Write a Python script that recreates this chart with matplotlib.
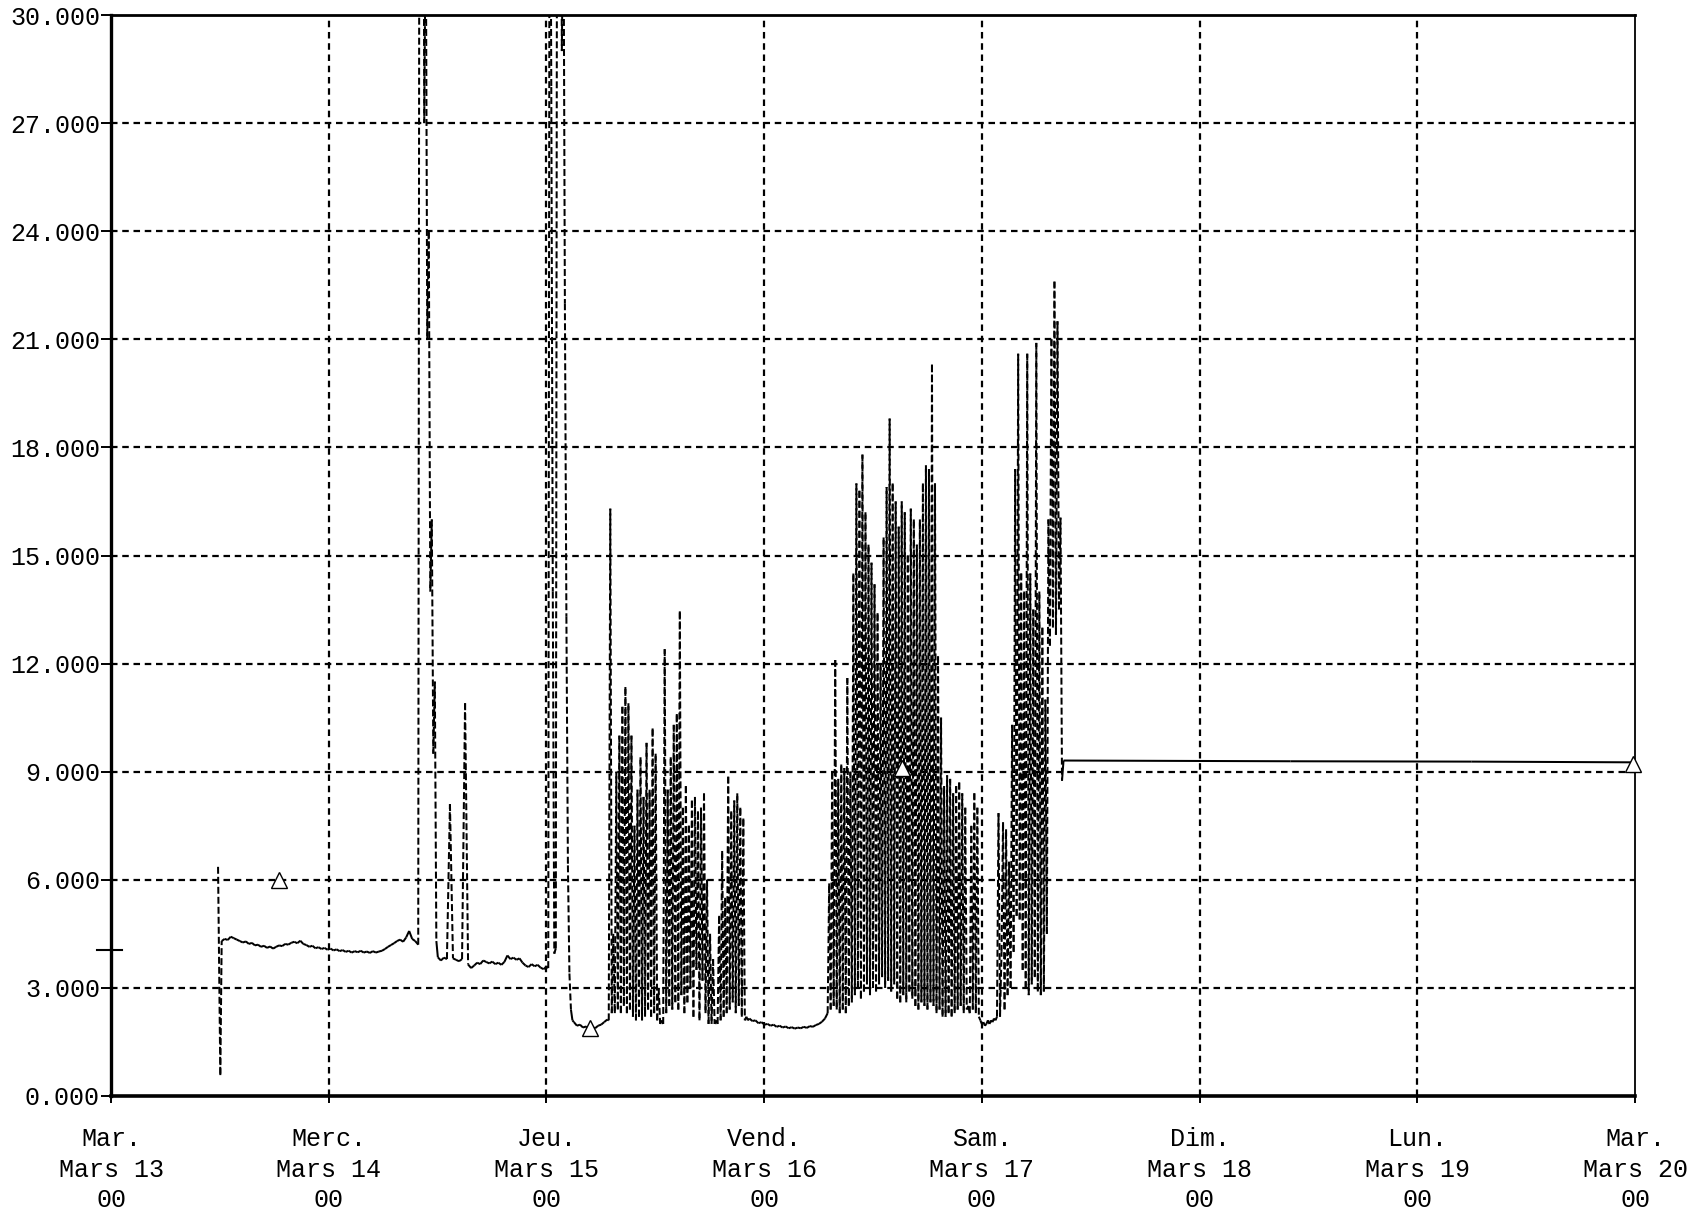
import numpy as np
import matplotlib
matplotlib.use("Agg")
import matplotlib.pyplot as plt
from matplotlib.collections import LineCollection

plt.rcParams['lines.scale_dashes'] = False
plt.rcParams['font.family'] = ['Liberation Mono', 'DejaVu Sans Mono']

# ---------------- axis labelling ----------------
tick_hours = [0, 24, 48, 72, 96, 120, 144, 168]
day_names = ["Mar.", "Merc.", "Jeu.", "Vend.", "Sam.", "Dim.", "Lun.", "Mar."]
date_names = ["Mars 13", "Mars 14", "Mars 15", "Mars 16",
              "Mars 17", "Mars 18", "Mars 19", "Mars 20"]
hour_names = ["00", "00", "00", "00", "00", "00", "00", "00"]
y_ticks = [0, 3, 6, 9, 12, 15, 18, 21, 24, 27, 30]

# ---------------- readings (time in hours from Mar 13 00:00) ----------------
# level held before the recording starts
pre_hours = [-1.55, 1.2]
pre_values = [4.05, 4.05]

# start-up transient
startup_hours = [11.8, 12.05]
startup_values = [6.36, 0.58]

# Mar 13 - 14 steady run, 20 min sampling
run1_start, run1_step = 12.2, 1 / 3
run1 = [4.30, 4.36, 4.33, 4.42, 4.38, 4.34, 4.30, 4.26, 4.29, 4.22,
        4.25, 4.18, 4.20, 4.14, 4.17, 4.11, 4.15, 4.09, 4.14, 4.18,
        4.16, 4.22, 4.20, 4.25, 4.28, 4.24, 4.31, 4.22, 4.19, 4.14,
        4.17, 4.10, 4.13, 4.08, 4.11, 4.06, 4.09, 4.04, 4.07, 4.02,
        4.05, 4.00, 4.03, 3.98, 4.02, 3.99, 4.03, 3.98, 4.01, 3.97,
        4.02, 3.98, 4.01, 4.03, 4.08, 4.14, 4.19, 4.24, 4.30, 4.34,
        4.28, 4.40, 4.58, 4.36, 4.30, 4.20]

# first overload, 10 min sampling
peak1_start, peak1_step = 34.03, 1 / 6
peak1 = [45.0, 33.0, 45.0, 27.0, 33.0, 21.0, 24.0, 14.0, 16.0, 9.5,
         11.5, 4.3]

# Mar 14 - 15 steady run, 20 min sampling
run2_start, run2_step = 36.03, 1 / 3
run2 = [3.85, 3.76, 3.84, 3.80, 8.10, 3.82, 3.78, 3.74, 3.80,
        10.90, 3.65, 3.55, 3.62, 3.70, 3.66, 3.76, 3.72, 3.68, 3.73,
        3.66, 3.70, 3.64, 3.72, 3.90, 3.80, 3.84, 3.78, 3.82, 3.70,
        3.62, 3.58, 3.66, 3.60, 3.64, 3.56, 3.52, 3.60]

# second overload, 10 min sampling
peak2_start, peak2_step = 48.20, 1 / 6
peak2 = [3.55, 40.0, 28.0, 14.0, 3.95, 4.10, 42.0, 30.0, 42.0, 29.0,
         34.0, 22.0, 13.3, 6.4, 3.4, 2.4, 2.1]

# Mar 15 low level, 20 min sampling
run3_start, run3_step = 51.03, 1 / 3
run3 = [2.05, 1.95, 1.98, 1.90, 1.93, 1.87, 1.92, 1.88, 1.95, 1.98,
        2.05, 2.12]

# Mar 15 cycling period, 10 min sampling
cyc1_start, cyc1_step = 54.87, 1 / 6
cyc1 = [2.1, 16.3, 2.3, 4.5, 2.3, 9.0, 2.4, 10.0, 2.3, 10.8,
        2.5, 11.35, 2.3, 10.9, 2.4, 10.0, 2.2, 7.5, 2.1, 8.5,
        2.2, 9.4, 2.1, 8.3, 2.2, 9.8, 2.4, 8.5, 2.2, 10.2,
        2.3, 9.5, 2.1, 3.0, 2.0, 2.1, 2.0, 12.4, 2.3, 8.5,
        2.5, 9.4, 2.4, 10.3, 2.6, 10.6, 2.4, 13.45, 2.8, 8.0,
        2.3, 8.6, 2.6, 7.5, 3.0, 8.2, 2.2, 8.3, 3.5, 7.9,
        2.1, 8.0, 3.2, 8.4, 2.3, 6.0, 2.0, 4.5, 2.0, 3.8,
        2.0, 2.1, 2.0, 5.0, 2.1, 6.8, 2.2, 5.5, 2.3, 8.86,
        2.4, 7.9, 2.6, 8.2, 2.3, 8.4, 2.5, 8.0, 2.2, 7.7,
        2.1, 2.2, 2.1]

# Mar 15 - 16 low level, 20 min sampling
run4_start, run4_step = 70.37, 1 / 3
run4 = [2.15, 2.08, 2.10, 2.02, 2.05, 1.98, 2.00, 1.95, 1.98, 1.92,
        1.95, 1.90, 1.93, 1.88, 1.91, 1.87, 1.90, 1.88, 1.92, 1.89,
        1.94, 1.92, 1.97, 2.00, 2.06, 2.15]

# Mar 16 - 17 cycling period, 10 min sampling
cyc2_start, cyc2_step = 79.0, 1 / 6
cyc2 = [2.3, 5.9, 2.4, 9.0, 2.5, 12.1, 2.4, 8.8, 2.3, 9.2,
        2.4, 9.1, 2.3, 11.6, 2.5, 9.0, 2.6, 14.5, 2.8, 17.0,
        3.0, 16.8, 2.7, 17.8, 2.9, 16.2, 3.1, 15.3, 2.8, 14.8,
        3.0, 14.2, 2.9, 13.4, 3.1, 12.0, 3.3, 15.5, 3.0, 16.9,
        3.2, 18.8, 2.9, 17.0, 3.1, 16.5, 2.7, 15.8, 2.6, 16.5,
        2.8, 16.2, 2.6, 15.0, 2.9, 16.3, 2.7, 16.0, 2.5, 15.3,
        2.4, 16.0, 2.6, 17.0, 2.5, 17.5, 2.4, 17.4, 2.6, 20.3,
        2.5, 17.0, 2.3, 12.2, 2.4, 10.5, 2.2, 8.6, 2.2, 8.9,
        2.3, 8.8, 2.2, 8.4, 2.3, 8.6, 2.4, 8.7, 2.5, 8.4,
        2.3, 8.0, 2.4, 2.5, 2.3, 7.5, 2.4, 8.4, 2.3, 8.0,
        2.2, 2.1, 2.0, 2.05, 1.95, 2.0, 2.1, 2.0, 2.1, 2.05,
        2.15, 2.1, 2.2, 7.85, 2.2, 4.0, 7.6, 2.4, 7.4, 2.8,
        6.5, 3.0, 10.3, 4.0, 17.4, 5.0, 20.6, 4.9, 14.5, 3.5,
        14.0, 3.0, 20.6, 2.8, 14.5, 3.1, 13.5, 3.3, 20.9, 2.9,
        14.0, 2.8, 13.0, 2.9, 11.0, 4.5, 16.0, 12.5, 21.0, 13.0,
        22.6, 12.8, 21.5, 13.5, 16.05, 8.75]

# held value until the end of the week
hold_hours = [105.0, 130.0, 150.0, 168.0]
hold_values = [9.31, 9.29, 9.28, 9.26]

# event marks
mark_hours = [18.5, 52.8, 87.2, 167.8]
mark_values = [6.0, 1.9, 9.1, 9.2]


def sampled(start, step, values):
    return start + step * np.arange(len(values)), np.asarray(values, float)


pieces = [
    (np.asarray(startup_hours, float), np.asarray(startup_values, float)),
    sampled(run1_start, run1_step, run1),
    sampled(peak1_start, peak1_step, peak1),
    sampled(run2_start, run2_step, run2),
    sampled(peak2_start, peak2_step, peak2),
    sampled(run3_start, run3_step, run3),
    sampled(cyc1_start, cyc1_step, cyc1),
    sampled(run4_start, run4_step, run4),
    sampled(cyc2_start, cyc2_step, cyc2),
    (np.asarray(hold_hours, float), np.asarray(hold_values, float)),
]
t = np.concatenate([p[0] for p in pieces])
v = np.concatenate([p[1] for p in pieces])

# ---------------- figure ----------------
fig = plt.figure(figsize=(16.96, 12.12), dpi=100)
fig.patch.set_facecolor("white")
ax = fig.add_axes([0.06545, 0.09571, 0.8986, 0.8919])
ax.set_xlim(0, 168)
ax.set_ylim(0, 30)

grid_dash = (0, (4.7, 3.4))
pen_dash = (0, (5.0, 2.2))

# dashed grid
for yv in y_ticks[1:-1]:
    ax.axhline(yv, color="black", lw=1.6, linestyle=grid_dash, zorder=1)
for xv in tick_hours[1:-1]:
    ax.axvline(xv, color="black", lw=1.6, linestyle=grid_dash, zorder=1)

# trace: each stroke drawn on its own, steep strokes dashed like a pen plotter
pts = np.column_stack([t, v])
segs = np.stack([pts[:-1], pts[1:]], axis=1)
steep = np.abs(np.diff(v)) > 0.6
styles = [pen_dash if s else "solid" for s in steep]
lc = LineCollection(segs, colors="black", linewidths=1.45, linestyles=styles,
                    zorder=3)
ax.add_collection(lc)

ax.plot(pre_hours, pre_values, color="black", lw=1.5, clip_on=False, zorder=3)

ax.plot(mark_hours, mark_values, linestyle="none", marker="^", ms=12,
        mfc="white", mec="black", mew=1.0, clip_on=False, zorder=4)

# frame
ax.spines["left"].set_linewidth(2.4)
ax.spines["bottom"].set_linewidth(2.6)
ax.spines["top"].set_linewidth(2.0)
ax.spines["right"].set_linewidth(1.3)

ax.set_yticks(y_ticks)
ax.set_yticklabels([f"{y:.3f}" for y in y_ticks])
ax.set_xticks(tick_hours)
ax.set_xticklabels([f"{d}\n{m}\n{h}" for d, m, h in
                    zip(day_names, date_names, hour_names)])

ax.tick_params(axis="y", length=7, width=1.4, pad=1, labelsize=18,
               direction="out")
ax.tick_params(axis="x", length=5, width=1.4, pad=17.5, labelsize=18,
               direction="out")
for lab in ax.get_xticklabels():
    lab.set_linespacing(1.33)
    lab.set_horizontalalignment("center")

fig.savefig("out.png", dpi=100, facecolor="white")
